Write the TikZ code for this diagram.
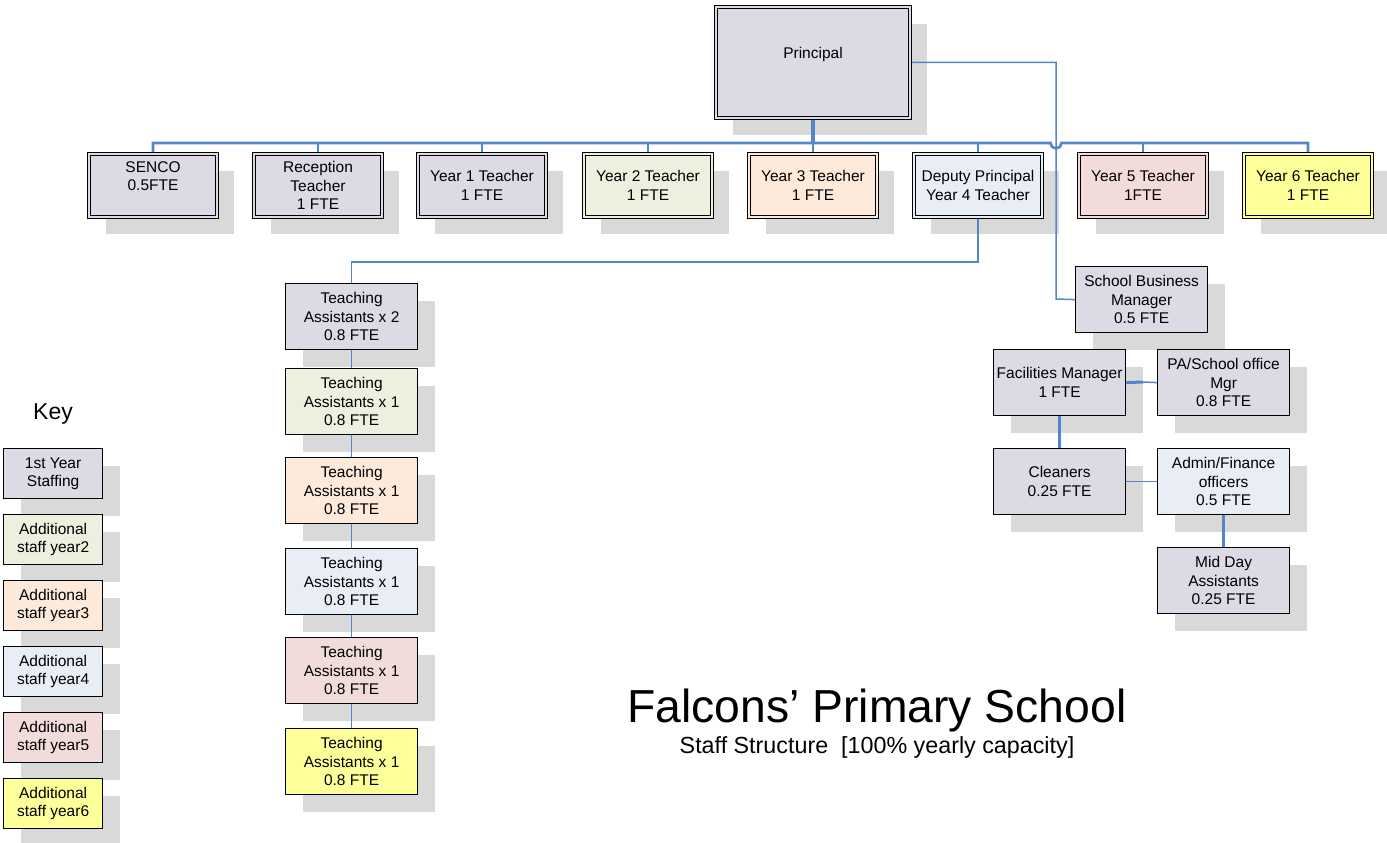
\documentclass[tikz,border=0pt]{standalone}
\usepackage{fontspec}
\setmainfont{Liberation Sans}
\usetikzlibrary{shadows}

\definecolor{lav}{RGB}{221,217,229}
\definecolor{grn}{RGB}{235,241,222}
\definecolor{pch}{RGB}{253,234,218}
\definecolor{lbl}{RGB}{233,238,246}
\definecolor{pnk}{RGB}{242,220,219}
\definecolor{ylw}{RGB}{255,255,153}
\definecolor{shd}{RGB}{217,217,217}
\definecolor{wire}{RGB}{85,133,200}

\newcommand{\boxfont}{\fontsize{15.5}{18.6}\selectfont}

\tikzset{
  shadowed/.style={drop shadow={shadow xshift=17pt, shadow yshift=-17pt, fill=shd, opacity=1}},
  sbox/.style={shadowed, draw=black, line width=1.2pt, fill=#1, rectangle,
    minimum width=132pt, minimum height=66pt, inner sep=0pt, align=center,
    font=\boxfont, anchor=north west},
  dbox/.style={shadowed, draw=black, line width=1pt, double=#1, double distance=2pt,
    fill=#1, rectangle, minimum width=128pt, minimum height=63pt, inner sep=0pt,
    outer sep=2pt, align=center, font=\boxfont, anchor=north west},
  kbox/.style={sbox=#1, minimum width=99pt, minimum height=50pt},
  thinwire/.style={draw=wire, line width=1.5pt},
  thickwire/.style={draw=wire, line width=3pt},
  buswire/.style={draw=wire, line width=2.6pt},
}

\begin{document}
\begin{tikzpicture}[x=1pt,y=-1pt]
\path[use as bounding box] (0,0) rectangle (1387,843);

% Principal
\node[dbox=lav, minimum width=194pt, minimum height=111pt] (P) at (714,5) {Principal\\ ~};

% Teachers
\node[dbox=lav] (senco) at (87,152) {SENCO\\0.5FTE\\ ~};
\node[dbox=lav] (rec)   at (252,152) {Reception\\Teacher\\ 1 FTE};
\node[dbox=lav] (y1)    at (416,152) {Year 1 Teacher\\1 FTE};
\node[dbox=grn] (y2)    at (582,152) {Year 2 Teacher\\1 FTE};
\node[dbox=pch] (y3)    at (747,152) {Year 3 Teacher\\1 FTE};
\node[dbox=lbl] (dep)   at (912,152) {Deputy Principal\\Year 4 Teacher};
\node[dbox=pnk] (y5)    at (1077,152) {Year 5 Teacher\\1FTE};
\node[dbox=ylw] (y6)    at (1242,152) {Year 6 Teacher\\1 FTE};

% Teaching assistants
\node[sbox=lav] (ta1) at (285,283) {Teaching\\Assistants x 2\\0.8 FTE};
\node[sbox=grn] (ta2) at (285,368) {Teaching\\Assistants x 1\\0.8 FTE};
\node[sbox=pch] (ta3) at (285,457) {Teaching\\Assistants x 1\\0.8 FTE};
\node[sbox=lbl] (ta4) at (285,548) {Teaching\\Assistants x 1\\0.8 FTE};
\node[sbox=pnk] (ta5) at (285,637) {Teaching\\Assistants x 1\\0.8 FTE};
\node[sbox=ylw] (ta6) at (285,728) {Teaching\\Assistants x 1\\0.8 FTE};

% Support staff
\node[sbox=lav] (sbm)   at (1075,266) {School Business\\Manager\\0.5 FTE};
\node[sbox=lav] (fac)   at (993,349)  {Facilities Manager\\1 FTE};
\node[sbox=lav] (pa)    at (1157,349) {PA/School office\\Mgr\\0.8 FTE};
\node[sbox=lav] (clean) at (993,448)  {Cleaners\\0.25 FTE};
\node[sbox=lbl] (admin) at (1157,448) {Admin/Finance\\officers\\0.5 FTE};
\node[sbox=lav] (mid)   at (1157,547) {Mid Day\\Assistants\\0.25 FTE};

% Key
\node[font=\fontsize{23}{27}\selectfont] (keyhead) at (53,414) {Key};
\node[kbox=lav] (k1) at (3,448) {1st Year\\Staffing};
\node[kbox=grn] (k2) at (3,514) {Additional\\staff year2};
\node[kbox=pch] (k3) at (3,580) {Additional\\staff year3};
\node[kbox=lbl] (k4) at (3,646) {Additional\\staff year4};
\node[kbox=pnk] (k5) at (3,712) {Additional\\staff year5};
\node[kbox=ylw] (k6) at (3,778) {Additional\\staff year6};

% Title
\node[anchor=base, font=\fontsize{46.3}{52}\selectfont] (title) at (877,722) {Falcons’ Primary School};
\node[anchor=base, font=\fontsize{23.3}{27}\selectfont] (subtitle) at (877,753) {Staff Structure \ [100\% yearly capacity]};

% Connector helper points
\coordinate (busy) at (0,143);
\coordinate (jx) at (1056,299);
\coordinate (tay) at (0,262);
\coordinate (fp) at (1143,382);

% Principal to the teacher bus
\draw[thickwire, line width=4pt] (P.south) -- (P.south |- busy);
\draw[buswire] (senco.north) -- (senco.north |- busy) -- (1050.5,143)
  arc[start angle=180, end angle=0, radius=5.5] -- (y6.north |- busy) -- (y6.north);
\foreach \t in {rec,y1,y2,y3,dep,y5}
  \draw[thinwire] (\t.north) -- (\t.north |- busy);

% Principal to school business manager
\draw[thinwire] (P.east) -| (jx) -- (sbm.west);

% Deputy to teaching assistants
\draw[thinwire] (dep.south) -- (dep.south |- tay) -| (ta1.north);
\draw[thinwire] (ta1.south) -- (ta2.north);
\draw[thinwire] (ta2.south) -- (ta3.north);
\draw[thinwire] (ta3.south) -- (ta4.north);
\draw[thinwire] (ta4.south) -- (ta5.north);
\draw[thinwire] (ta5.south) -- (ta6.north);

% Support staff links
\draw[thickwire] (fac.east) -- (fp);
\draw[thinwire] (fp) -- (pa.west);
\draw[thickwire] (fac.south) -- (clean.north);
\draw[thinwire] (clean.east) -- (admin.west);
\draw[thickwire] (admin.south) -- (mid.north);
\end{tikzpicture}
\end{document}
